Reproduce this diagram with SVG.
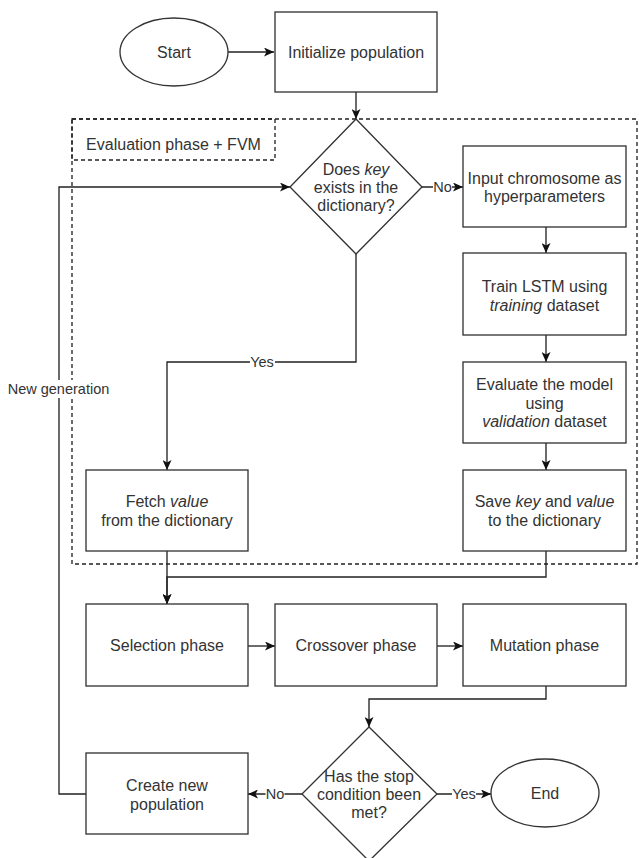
<svg xmlns="http://www.w3.org/2000/svg" width="639" height="858" viewBox="0 0 639 858">
<defs>
<style>
.box{fill:#fff;stroke:#333;stroke-width:1.33}
.t{font-family:"Liberation Sans",Arial,sans-serif;font-size:16px;fill:#333;text-anchor:middle}
.lbl{font-family:"Liberation Sans",Arial,sans-serif;font-size:14.5px;fill:#333;text-anchor:middle}
.e{fill:none;stroke:#222;stroke-width:1.33}
.dash{fill:none;stroke:#222;stroke-width:1.33;stroke-dasharray:4 3}
.lb{fill:#fff}
</style>
<marker id="arr" markerUnits="userSpaceOnUse" markerWidth="10" markerHeight="9" refX="10" refY="4.5" orient="auto" viewBox="0 0 10 9">
<path d="M0,0 L10,4.5 L0,9 L2.5,4.5 Z" fill="#111"/>
</marker>
</defs>
<rect width="639" height="858" fill="#fff"/>

<g id="container">
<rect class="dash" x="72" y="119" width="565" height="445"/>
<rect class="dash" x="72" y="119" width="203" height="41"/>
<text class="t" x="173.5" y="150">Evaluation phase + FVM</text>
</g>

<g id="connectors">
<path class="e" d="M228,52 H274" marker-end="url(#arr)"/>
<path class="e" d="M356,92 V119" marker-end="url(#arr)"/>
<path class="e" d="M422,187 H463" marker-end="url(#arr)"/>
<path class="e" d="M356,254 V362 H167 V470" marker-end="url(#arr)"/>
<path class="e" d="M546,227 V253" marker-end="url(#arr)"/>
<path class="e" d="M546,335 V362" marker-end="url(#arr)"/>
<path class="e" d="M546,443 V470" marker-end="url(#arr)"/>
<path class="e" d="M167,551 V604" marker-end="url(#arr)"/>
<path class="e" d="M546,551 V577 H167 V604" marker-end="url(#arr)"/>
<path class="e" d="M248,646 H275" marker-end="url(#arr)"/>
<path class="e" d="M437,646 H463" marker-end="url(#arr)"/>
<path class="e" d="M546,686 V699 H369 V727" marker-end="url(#arr)"/>
<path class="e" d="M302,794 H248" marker-end="url(#arr)"/>
<path class="e" d="M437,794 H491" marker-end="url(#arr)"/>
<path class="e" d="M86,794 H59 V187 H290" marker-end="url(#arr)"/>
<rect class="lb" x="433" y="179" width="19" height="16"/>
<text class="lbl" x="442.5" y="192">No</text>
<rect class="lb" x="250" y="354" width="25" height="16"/>
<text class="lbl" x="262" y="367">Yes</text>
<rect class="lb" x="265.5" y="786" width="19" height="16"/>
<text class="lbl" x="275" y="799">No</text>
<rect class="lb" x="452" y="786" width="24" height="16"/>
<text class="lbl" x="464" y="799">Yes</text>
<rect class="lb" x="7" y="380" width="103" height="18"/>
<text class="lbl" x="58.5" y="394">New generation</text>
</g>

<g id="start">
<ellipse class="box" cx="174" cy="52" rx="54" ry="34"/>
<text class="t" x="174" y="58">Start</text>
</g>
<g id="init">
<rect class="box" x="275" y="12" width="162" height="80"/>
<text class="t" x="356" y="58">Initialize population</text>
</g>
<g id="decision-key">
<path class="box" d="M356,119 L422,187 L356,254 L290,187 Z"/>
<text class="t" x="356" y="175">Does <tspan font-style="italic">key</tspan></text>
<text class="t" x="356" y="193">exists in the</text>
<text class="t" x="356" y="211">dictionary?</text>
</g>
<g id="input">
<rect class="box" x="463" y="146" width="163" height="81"/>
<text class="t" x="544.5" y="184">Input chromosome as</text>
<text class="t" x="544.5" y="202">hyperparameters</text>
</g>
<g id="train">
<rect class="box" x="463" y="253" width="163" height="82"/>
<text class="t" x="544.5" y="292">Train LSTM using</text>
<text class="t" x="544.5" y="311"><tspan font-style="italic">training</tspan> dataset</text>
</g>
<g id="evaluate">
<rect class="box" x="463" y="362" width="163" height="81"/>
<text class="t" x="544.5" y="390">Evaluate the model</text>
<text class="t" x="544.5" y="408.5">using</text>
<text class="t" x="544.5" y="427"><tspan font-style="italic">validation</tspan> dataset</text>
</g>
<g id="save">
<rect class="box" x="463" y="470" width="163" height="81"/>
<text class="t" x="544.5" y="507">Save <tspan font-style="italic">key</tspan> and <tspan font-style="italic">value</tspan></text>
<text class="t" x="544.5" y="526">to the dictionary</text>
</g>
<g id="fetch">
<rect class="box" x="86" y="470" width="162" height="81"/>
<text class="t" x="167" y="507">Fetch <tspan font-style="italic">value</tspan></text>
<text class="t" x="167" y="526">from the dictionary</text>
</g>
<g id="selection">
<rect class="box" x="86" y="604" width="162" height="82"/>
<text class="t" x="167" y="651">Selection phase</text>
</g>
<g id="crossover">
<rect class="box" x="275" y="604" width="162" height="82"/>
<text class="t" x="356" y="651">Crossover phase</text>
</g>
<g id="mutation">
<rect class="box" x="463" y="604" width="163" height="82"/>
<text class="t" x="544.5" y="651">Mutation phase</text>
</g>
<g id="stop-decision">
<path class="box" d="M369,727 L437,794 L369,861 L302,794 Z"/>
<text class="t" x="369" y="782">Has the stop</text>
<text class="t" x="369" y="800">condition been</text>
<text class="t" x="369" y="818">met?</text>
</g>
<g id="create">
<rect class="box" x="86" y="753" width="162" height="81"/>
<text class="t" x="167" y="790.5">Create new</text>
<text class="t" x="167" y="809.5">population</text>
</g>
<g id="end">
<ellipse class="box" cx="545" cy="793" rx="54" ry="34"/>
<text class="t" x="545" y="799">End</text>
</g>
</svg>
